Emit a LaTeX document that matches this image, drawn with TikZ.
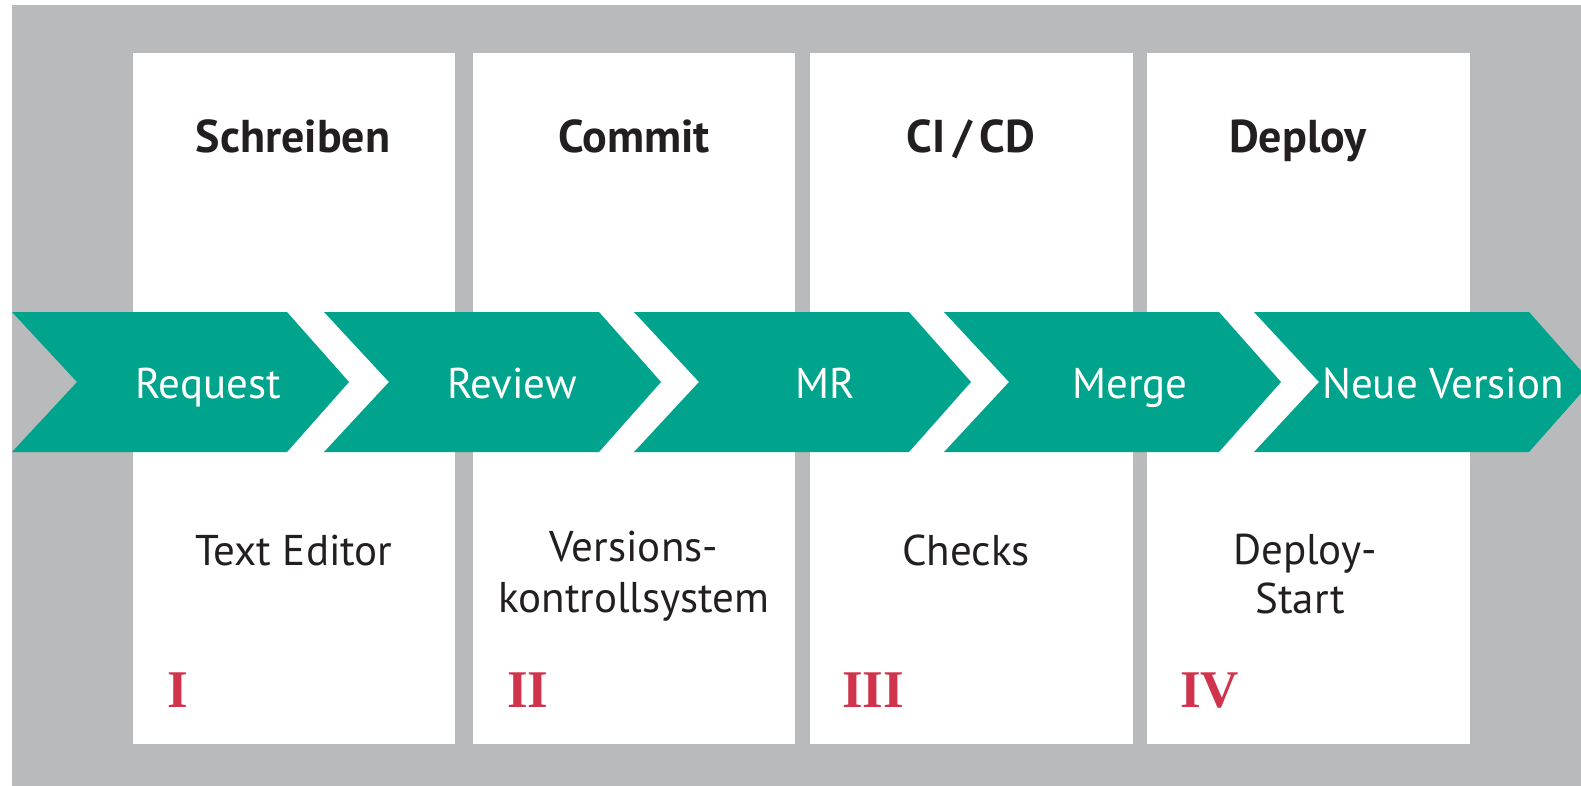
\documentclass[tikz,border=0pt]{standalone}
\usepackage{fontspec}
\setmainfont{PT Sans}
\newfontfamily\numfont{Liberation Serif}
\definecolor{bggray}{RGB}{185,186,188}
\definecolor{teal}{RGB}{0,163,140}
\definecolor{numred}{RGB}{208,52,76}
\definecolor{ink}{RGB}{35,31,32}
\tikzset{
  column/.style={fill=white, draw=none},
  chev/.style={fill=teal, draw=none},
  title/.style={anchor=base, text=ink, font=\fontsize{46bp}{52bp}\selectfont\bfseries},
  steplabel/.style={anchor=base, text=white, font=\fontsize{43bp}{50bp}\selectfont},
  tool/.style={anchor=base, text=ink, align=center, font=\fontsize{43bp}{50bp}\selectfont},
  numeral/.style={anchor=base west, text=numred, inner sep=0pt, font=\fontsize{53bp}{60bp}\numfont\bfseries},
}
\begin{document}
\begin{tikzpicture}[x=1bp,y=-1bp]
\useasboundingbox (0,0) rectangle (1581,786);
\fill[white] (0,0) rectangle (1581,786);
\fill[bggray] (12,5) rectangle (1581,786);
% columns
\fill[column] (133,53) rectangle (455,744);
\fill[column] (473,53) rectangle (795,744);
\fill[column] (810,53) rectangle (1133,744);
\fill[column] (1147,53) rectangle (1470,744);
% chevrons
\begin{scope}
\clip (0,0) rectangle (1581,786);
\foreach \L in {12,324,634,944,1254}{
  \fill[chev] (\L,312) -- ({\L+275},312) -- ({\L+337},382) -- ({\L+275},452) -- (\L,452) -- ({\L+65},382) -- cycle;
}
\end{scope}
% titles
\node[title] (t1) at (293,152) {Schreiben};
\node[title] (t2) at (634,152) {Commit};
\node[title] (t3) at (971,152) {CI\,/\,CD};
\node[title] (t4) at (1298,152) {Deploy};
% step labels
\node[steplabel] (s1) at (208,398) {Request};
\node[steplabel] (s2) at (512,398) {Review};
\node[steplabel] (s3) at (825,398) {MR};
\node[steplabel] (s4) at (1130,398) {Merge};
\node[steplabel] (s5) at (1443,398) {Neue Version};
% tools
\node[tool] (b1) at (294,565) {Text Editor};
\node[tool] (b2a) at (634,561) {Versions-};
\node[tool] (b2b) at (634,612) {kontrollsystem};
\node[tool] (b3) at (966,565) {Checks};
\node[tool] (b4a) at (1305,564) {Deploy-};
\node[tool] (b4b) at (1300,613) {Start};
% numerals
\node[numeral] (n1) at (167,707) {I};
\node[numeral] (n2) at (507,707) {II};
\node[numeral] (n3) at (842,707) {III};
\node[numeral] (n4) at (1180,707) {IV};
\end{tikzpicture}
\end{document}
